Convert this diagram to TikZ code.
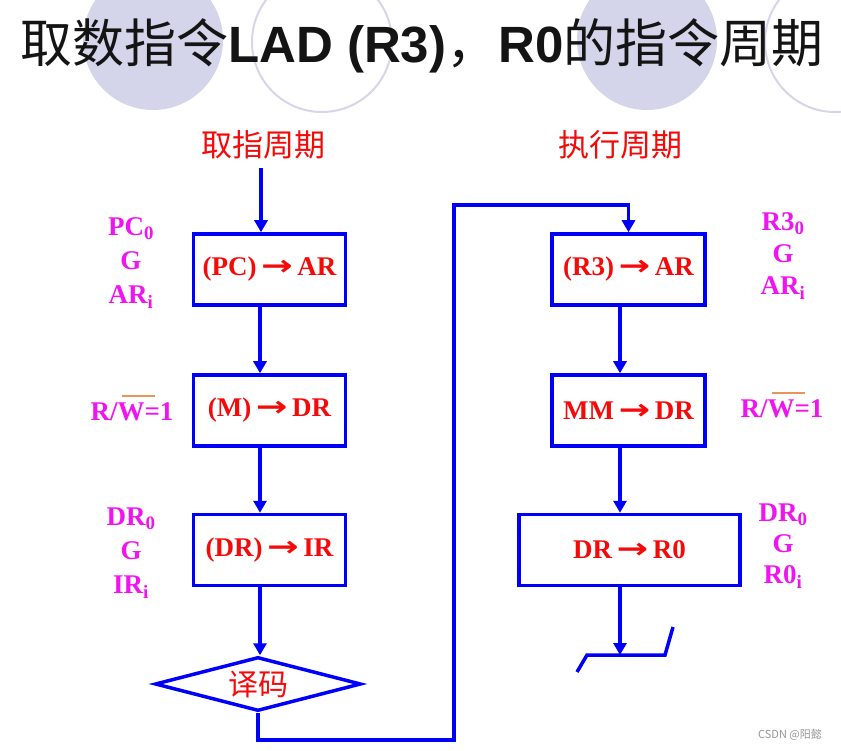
\documentclass[tikz,border=0pt]{standalone}
\usepackage{fontspec}
\usepackage{graphicx}
\setmainfont{Liberation Serif}
\newfontfamily\cjk{Noto Sans CJK SC}
\newfontfamily\arial{Liberation Sans}
\newfontfamily\arrowfont{DejaVu Sans}
\usetikzlibrary{arrows.meta,shapes.geometric}
\definecolor{flowblue}{RGB}{0,0,250}
\definecolor{flowred}{RGB}{245,10,10}
\definecolor{sigmag}{RGB}{240,20,240}
\definecolor{baror}{RGB}{230,150,90}
\definecolor{circfill}{RGB}{212,212,234}
\definecolor{circline}{RGB}{214,214,234}
\definecolor{wmgray}{RGB}{150,150,150}
\definecolor{titlecol}{RGB}{20,20,20}
\newcommand\arr{\,{\arrowfont\bfseries\scalebox{1.4}[1.05]{→}}\,}
\newcommand\ovbar[1]{{\setbox0\hbox{#1}\rlap{\hspace{0.15\wd0}{\color{baror}\rule[\dimexpr\ht0+6pt\relax]{1.25\wd0}{1.2pt}}}#1}}
\begin{document}
\begin{tikzpicture}[x=1pt,y=-1pt,
  box/.style={draw=flowblue, line width=3.5pt, minimum height=71pt, inner sep=0pt,
    text=flowred, font=\bfseries\fontsize{27}{30}\selectfont},
  conn/.style={draw=flowblue, line width=3.5pt, -{Triangle[width=13pt,length=12pt]}},
  plainline/.style={draw=flowblue, line width=3.5pt},
  sig/.style={text=sigmag, align=center, inner sep=0pt},
  phase/.style={text=flowred, font=\cjk\fontsize{31}{34}\selectfont, inner sep=0pt}
]
\useasboundingbox (0,0) rectangle (841,751);
\fill[white] (0,0) rectangle (841,751);
% background circles
\fill[circfill] (153,40) circle (70pt);
\draw[circline, line width=2pt] (322,42) circle (70pt);
\fill[circfill] (647,40) circle (70pt);
\draw[circline, line width=2pt] (835,42) circle (70pt);
% title
\node[anchor=base west, inner sep=0pt, text=titlecol] (title) at (20,63)
  {{\cjk\fontsize{52}{56}\selectfont 取数指令}{\arial\bfseries\fontsize{51}{55}\selectfont LAD (R3)}{\cjk\fontsize{52}{56}\selectfont ，}{\arial\bfseries\fontsize{51}{55}\selectfont R0}{\cjk\fontsize{52}{56}\selectfont 的指令周期}};
% phase labels
\node[phase] (ph1) at (263,145) {取指周期};
\node[phase] (ph2) at (620,145) {执行周期};
% left column
\node[box, minimum width=152pt] (b1) at (269.5,269.5) {(PC)\arr AR};
\node[box, minimum width=152pt] (b2) at (269.5,410.5) {(M)\arr DR};
\node[box, minimum width=152pt] (b3) at (269.5,550) {(DR)\arr IR};
\node[diamond, draw=flowblue, line width=3.5pt, minimum width=206pt, minimum height=54pt,
  aspect=3.6, inner sep=0pt, text=flowred, font=\cjk\fontsize{30}{32}\selectfont] (dia) at (258,684) {\raisebox{2pt}{译码}};
% right column
\node[box, minimum width=153pt] (b4) at (628.5,269.5) {(R3)\arr AR};
\node[box, minimum width=153pt] (b5) at (628.5,410.5) {MM\arr DR};
\node[box, minimum width=221pt] (b6) at (629.5,550) {DR\arr R0};
% coordinates
\coordinate (start) at (261,168);
\coordinate (a1) at ([xshift=-9.5pt]b1.south);
\coordinate (a2) at ([xshift=-9.5pt]b2.south);
\coordinate (a3) at ([xshift=-9.5pt]b3.south);
\coordinate (a4) at ([xshift=-8.5pt]b4.south);
\coordinate (a5) at ([xshift=-8.5pt]b5.south);
\coordinate (a6) at ([xshift=-9.5pt]b6.south);
\coordinate (lb) at (454,740);
\coordinate (lt) at (454,205);
\coordinate (s1) at (577,672);
\coordinate (s2) at (587,655);
\coordinate (s3) at (665,655);
\coordinate (s4) at (673,627);
% connectors
\draw[conn] (start) -- (start |- b1.north);
\draw[conn] (a1) -- (a1 |- b2.north);
\draw[conn] (a2) -- (a2 |- b3.north);
\draw[conn] (a3) -- (a3 |- dia.north);
\draw[conn] (dia.south) |- (lb) -- (lt) -| (b4.north);
\draw[conn] (a4) -- (a4 |- b5.north);
\draw[conn] (a5) -- (a5 |- b6.north);
\draw[conn] (a6) -- (a6 |- s2);
\draw[plainline] (s1) -- (s2) -- (s3) -- (s4);
% signal labels
\node[sig, font=\bfseries\fontsize{27}{34}\selectfont] (l1) at (131,263) {PC\textsubscript{0}\\G\\AR\textsubscript{i}};
\node[sig, font=\bfseries\fontsize{27}{34}\selectfont] (l2) at (132,408) {R/\ovbar{W}=1};
\node[sig, font=\bfseries\fontsize{27}{34}\selectfont] (l3) at (131,553) {DR\textsubscript{0}\\G\\IR\textsubscript{i}};
\node[sig, font=\bfseries\fontsize{27}{32}\selectfont] (r1) at (783,256) {R3\textsubscript{0}\\G\\AR\textsubscript{i}};
\node[sig, font=\bfseries\fontsize{27}{34}\selectfont] (r2) at (782,405) {R/\ovbar{W}=1};
\node[sig, font=\bfseries\fontsize{27}{31}\selectfont] (r3) at (783,546) {DR\textsubscript{0}\\G\\R0\textsubscript{i}};
% watermark
\node[anchor=west, text=wmgray, font=\cjk\fontsize{11}{13}\selectfont, inner sep=0pt] (wm) at (758,735) {CSDN @阳懿};
\end{tikzpicture}
\end{document}
